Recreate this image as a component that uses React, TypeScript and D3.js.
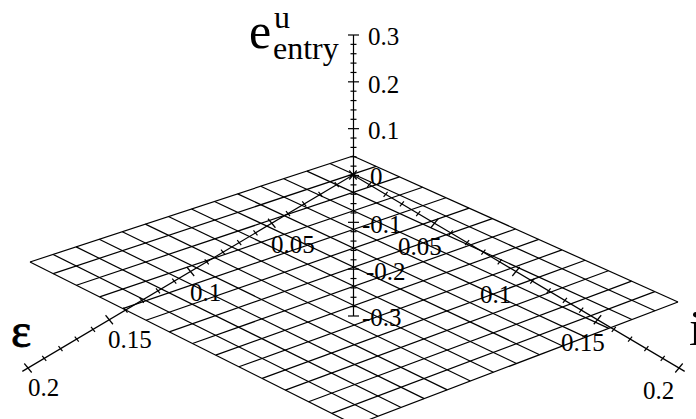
import React from "react";
import * as d3 from "d3";

const gridSteps = [0,1,2,3,4,5,6,7,8,9,10,11,12,13,14];
const zMajor = [0.3,0.2,0.1,0,-0.1,-0.2,-0.3];
const zMinor = [0.28,0.26,0.24,0.22,0.18,0.16,0.14,0.12,0.08,0.06,0.04,0.02,-0.02,-0.04,-0.06,-0.08,-0.12,-0.14,-0.16,-0.18,-0.22,-0.24,-0.26,-0.28];
const floorMajor = [0,0.05,0.1,0.15,0.2];
const floorMinor = [0.01,0.02,0.03,0.04,0.06,0.07,0.08,0.09,0.11,0.12,0.13,0.14,0.16,0.17,0.18,0.19];
const zLabels = [
  {t:"0.3",x:368,y:45},{t:"0.2",x:368,y:93},{t:"0.1",x:368,y:139},{t:"0",x:370,y:185},
  {t:"-0.1",x:362,y:233},{t:"-0.2",x:366,y:280},{t:"-0.3",x:362,y:326},
];
const epsLabels = [
  {t:"0.05",x:271,y:253},{t:"0.1",x:190,y:301},{t:"0.15",x:108,y:348},{t:"0.2",x:28,y:396},
];
const iLabels = [
  {t:"0.05",x:398,y:255},{t:"0.1",x:480,y:303},{t:"0.15",x:561,y:351},{t:"0.2",x:643,y:399},
];

// Projected corners of the floor plane
const B = [353,156], R = [678,302], L = [30,262], F = [355,425];
const project=(u:number,v:number):[number,number]=>{
  const mix=(k:number)=>(1-u)*(1-v)*B[k]+u*(1-v)*R[k]+(1-u)*v*L[k]+u*v*F[k];
  return [mix(0),mix(1)];
};

const gridScale = d3.scaleLinear().domain([0,14]).range([0,1]);
const zScale = d3.scaleLinear().domain([-0.3,0.3]).range([316,35]);
const iX = d3.scaleLinear().domain([0,0.2]).range([353,679]);
const eX = d3.scaleLinear().domain([0,0.2]).range([353,28]);
const fY = d3.scaleLinear().domain([0,0.2]).range([175,368]);
const line = d3.line();
const serif = "'Liberation Serif','Times New Roman',serif";

export default function App(){
  const seg:[[number,number],[number,number]][] = [];
  gridSteps.forEach(s=>{
    const t=gridScale(s);
    seg.push([project(t,0),project(t,1)]);
    seg.push([project(0,t),project(1,t)]);
  });
  const tick=(x:number,y:number,dx:number,dy:number)=>line([[x-dx,y-dy],[x+dx,y+dy]])!;
  return (
    <svg width={696} height={419} style={{position:"absolute",left:0,top:0,background:"#fff"}} fontFamily={serif} fill="#000">
      <g stroke="#000" strokeWidth={1.2} fill="none">
        {seg.map((s,i)=><path key={i} d={line(s)!}/>)}
        <path d={line([[353.5,zScale(0.3)],[353.5,zScale(-0.3)]])!}/>
        {zMajor.map(v=><path key={v} d={tick(353.5,zScale(v),5.5,0)}/>)}
        {zMinor.map(v=><path key={v} d={tick(353.5,zScale(v),3,0)}/>)}
        <path d={line([[iX(0),fY(0)],[iX(0.2035),fY(0.2035)]])!}/>
        <path d={line([[eX(0),fY(0)],[eX(0.2035),fY(0.2035)]])!}/>
        {floorMajor.map(v=><path key={v} d={tick(iX(v),fY(v),3.7,-4.5)}/>)}
        {floorMajor.map(v=><path key={v} d={tick(eX(v),fY(v),3.7,4.5)}/>)}
        {floorMinor.map(v=><path key={v} d={tick(iX(v),fY(v),2,-2.5)}/>)}
        {floorMinor.map(v=><path key={v} d={tick(eX(v),fY(v),2,2.5)}/>)}
      </g>
      <g fontSize={25}>
        {[...zLabels,...epsLabels,...iLabels].map((l,i)=><text key={i} x={l.x} y={l.y}>{l.t}</text>)}
      </g>
      <text x={249} y={48} fontSize={50}>e</text>
      <text x={274} y={28} fontSize={32}>u</text>
      <text x={273} y={59} fontSize={32}>entry</text>
      <text x={11} y={347} fontSize={48} stroke="#000" strokeWidth={0.8}>ε</text>
      <text x={689} y={345} fontSize={50}>i</text>
    </svg>
  );
}
